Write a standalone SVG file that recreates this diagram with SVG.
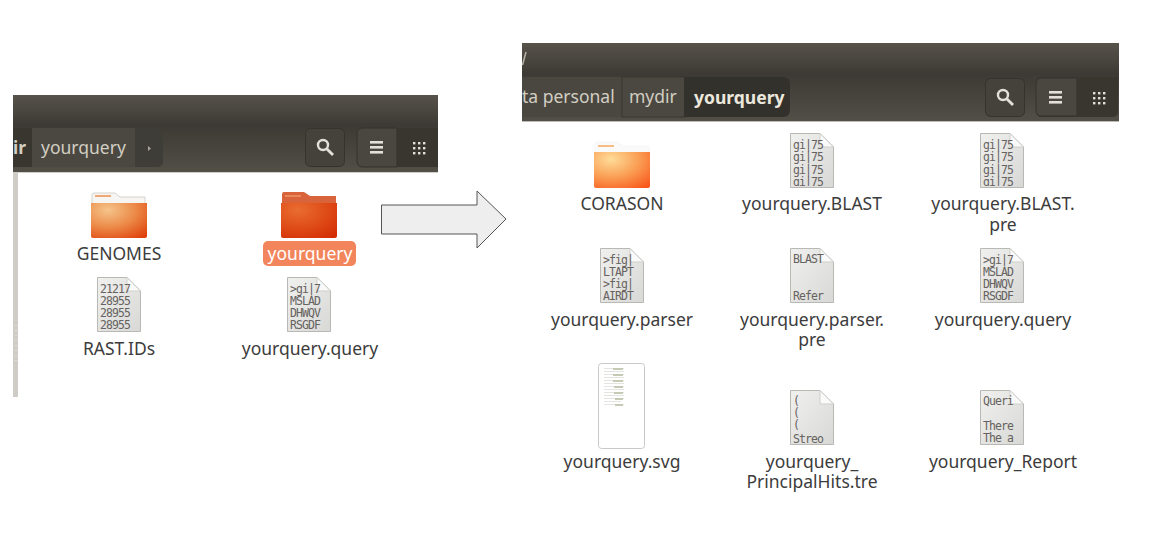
<svg xmlns="http://www.w3.org/2000/svg" width="1150" height="551" viewBox="0 0 1150 551">
<style>
.lbl{font-family:"Noto Sans","Open Sans","Liberation Sans",sans-serif;font-size:17.5px;fill:#3c3c3c;text-anchor:middle}
.crumb{font-family:"Noto Sans","Open Sans","Liberation Sans",sans-serif;font-size:17.5px;fill:#d2cec2}
.mono{font-family:"DejaVu Sans Mono","Liberation Mono",monospace;font-size:11.5px;letter-spacing:-.93px;fill:#66625f}
.btn{fill:#45423c;stroke:#35332e;stroke-width:1}
.ic{fill:#e4e0d8}
</style>
<defs>
<linearGradient id="title" x1="0" y1="0" x2="0" y2="1"><stop offset="0" stop-color="#57534b"/><stop offset="1" stop-color="#3d3a35"/></linearGradient>
<linearGradient id="tool" x1="0" y1="0" x2="0" y2="1"><stop offset="0" stop-color="#3d3a35"/><stop offset="1" stop-color="#524f47"/></linearGradient>
<linearGradient id="page" x1="0" y1="0" x2="1" y2="1"><stop offset="0" stop-color="#f0f0ee"/><stop offset="1" stop-color="#d8d8d6"/></linearGradient>
<radialGradient id="fo1" cx=".3" cy=".2" r="1"><stop offset="0" stop-color="#f5c48a"/><stop offset=".5" stop-color="#ec8a48"/><stop offset="1" stop-color="#df3f0a"/></radialGradient>
<radialGradient id="fo2" cx=".3" cy=".2" r="1"><stop offset="0" stop-color="#e96c30"/><stop offset=".5" stop-color="#df4d18"/><stop offset="1" stop-color="#d42c04"/></radialGradient>
<radialGradient id="fo3" cx=".3" cy=".2" r="1"><stop offset="0" stop-color="#fedc98"/><stop offset=".5" stop-color="#fa9f55"/><stop offset="1" stop-color="#f9561a"/></radialGradient>
<clipPath id="iconClip"><rect x="1" y="1" width="42" height="52"/></clipPath>
<g id="page-icon">
<path d="M.5 .5H30L43.500 14V54.500H.5Z" fill="url(#page)" stroke="#b8b8b4"/>
<path d="M30 .5V14H43.500Z" fill="#fafafa" stroke="#cfcfcb"/>
</g>
<g id="search-icon" fill="none" stroke="#e4e0d8">
<circle cx="-2" cy="-2" r="5" stroke-width="2.400"/><path d="M2 2L8 8" stroke-width="2.800"/>
</g>
<g id="list-icon" class="ic"><rect x="-7" y="-6" width="13" height="2.600"/><rect x="-7" y="-1" width="13" height="2.600"/><rect x="-7" y="4" width="13" height="2.600"/></g>
<g id="grid-icon" class="ic"><rect x="-6" y="-6" width="2.400" height="2.400"/><rect x="-1" y="-6" width="2.400" height="2.400"/><rect x="4" y="-6" width="2.400" height="2.400"/><rect x="-6" y="-1" width="2.400" height="2.400"/><rect x="-1" y="-1" width="2.400" height="2.400"/><rect x="4" y="-1" width="2.400" height="2.400"/><rect x="-6" y="4" width="2.400" height="2.400"/><rect x="-1" y="4" width="2.400" height="2.400"/><rect x="4" y="4" width="2.400" height="2.400"/></g>
</defs>
<rect width="1150" height="551" fill="#fff"/>

<g id="window-left">
<rect x="13" y="95" width="425" height="30" fill="url(#title)"/>
<rect x="13" y="125" width="425" height="47" fill="url(#tool)"/>
<rect x="13" y="172" width="425" height="1" fill="#cfcdc8"/>
<rect x="13" y="173" width="5" height="224" fill="#cfcbc6"/>
<path d="M16 325V364" stroke="#f2f0ec" stroke-width="1" stroke-dasharray="1 4"/>
<rect x="13" y="128" width="19" height="39" fill="#38362f"/>
<rect x="32" y="128" width="103" height="39" fill="#4b4841"/>
<path d="M135 128H157Q163 128 163 134V161Q163 167 157 167H135Z" fill="#3f3d37"/>
<path d="M148 146l3 2.500-3 2.500Z" fill="#aaa69c"/>
<text class="crumb" x="13" y="154" font-weight="700">ir</text>
<text class="crumb" x="41" y="154">yourquery</text>
<rect class="btn" x="305.500" y="128.500" width="39" height="38" rx="5"/>
<use href="#search-icon" x="325" y="147"/>
<path d="M438 128H363Q357 128 357 134V161Q357 167 363 167H438Z" fill="#38362f"/>
<path d="M397 128H363Q357 128 357 134V161Q357 167 363 167H397Z" fill="#4a4741" stroke="#35332e"/>
<use href="#list-icon" x="377" y="147"/>
<use href="#grid-icon" x="419" y="148"/>
</g>

<g id="window-right">
<rect x="522" y="43" width="597" height="31" fill="url(#title)"/>
<rect x="522" y="74" width="597" height="47" fill="url(#tool)"/>
<rect x="522" y="121" width="597" height="1" fill="#bdbbb6"/>
<path d="M526 52L522.500 65" fill="none" stroke="#b5b1a6" stroke-width="1.500"/>
<rect x="522" y="77" width="100" height="40" fill="#4a4741"/>
<rect x="622" y="77" width="63" height="40" fill="#4b4841" stroke="#38362f"/>
<path d="M684 77H783Q790 77 790 84V110Q790 117 783 117H684Z" fill="#33312c"/>
<text class="crumb" x="522" y="103">ta personal</text>
<text class="crumb" x="629" y="103">mydir</text>
<text class="crumb" x="694" y="104" font-weight="700" style="fill:#ece8dd">yourquery</text>
<rect class="btn" x="985.500" y="78.500" width="39" height="38" rx="5"/>
<use href="#search-icon" x="1005" y="97"/>
<path d="M1118 77H1042Q1036 77 1036 83V111Q1036 117 1042 117H1112Q1118 117 1118 111Z" fill="#38362f"/>
<path d="M1077 78H1042Q1036 78 1036 84V110Q1036 116 1042 116H1077Z" fill="#4a4741" stroke="#35332e"/>
<use href="#list-icon" x="1056" y="97"/>
<use href="#grid-icon" x="1099" y="98"/>
</g>

<g id="folder-genomes">
<path d="M92 195Q92 193 94 193H115L120 197H145V204H92Z" fill="#f7f5f1" stroke="#d5d3cd"/>
<rect x="95" y="195" width="16" height="2" fill="#f0a878"/>
<path d="M91 203H147V236Q147 238 145 238H93Q91 238 91 236Z" fill="url(#fo1)"/>
<text class="lbl" x="119" y="260">GENOMES</text>
</g>
<g id="folder-yourquery-selected">
<path d="M282 195Q282 192 284 192H304L310 196H336V204H282Z" fill="#d9633a"/>
<rect x="285" y="195" width="16" height="2" fill="#ea8a5c"/>
<path d="M281 203H337V236Q337 238 335 238H283Q281 238 281 236Z" fill="url(#fo2)"/>
<rect x="263" y="241" width="93" height="25" rx="5" fill="#f2855c"/>
<text class="lbl" x="310" y="260" style="fill:#fff">yourquery</text>
</g>
<g id="file-rast-ids" transform="translate(97 277)">
<use href="#page-icon"/>
<g clip-path="url(#iconClip)"><text class="mono" x="3" y="16">21217</text><text class="mono" x="3" y="28">28955</text><text class="mono" x="3" y="40">28955</text><text class="mono" x="3" y="52">28955</text></g>
<text class="lbl" x="22" y="77.500">RAST.IDs</text>
</g>
<g id="file-query-left" transform="translate(287 277)">
<use href="#page-icon"/>
<g clip-path="url(#iconClip)"><text class="mono" x="3" y="16">&gt;gi|7</text><text class="mono" x="3" y="28">MSLAD</text><text class="mono" x="3" y="40">DHWQV</text><text class="mono" x="3" y="52">RSGDF</text></g>
<text class="lbl" x="23" y="77.500">yourquery.query</text>
</g>

<g id="connectors">
<path d="M381.500 205H477V191L506 219 477 248V234H381.500Z" fill="#eeeeee" stroke="#555" stroke-width="1"/>
</g>

<g id="folder-corason">
<path d="M595 145Q595 142 597 142H617L623 146H649V153H595Z" fill="#fbfafa" stroke="#f0efec" stroke-width=".5"/>
<rect x="598" y="145" width="16" height="2" fill="#f8bd84"/>
<path d="M594 152H650V186Q650 188 648 188H596Q594 188 594 186Z" fill="url(#fo3)"/>
<text class="lbl" x="622" y="210">CORASON</text>
</g>
<g id="file-blast" transform="translate(790 133)">
<use href="#page-icon"/>
<g clip-path="url(#iconClip)"><text class="mono" x="3" y="15.500">gi|75</text><text class="mono" x="3" y="28">gi|75</text><text class="mono" x="3" y="40.500">gi|75</text><text class="mono" x="3" y="53">gi|75</text></g>
<text class="lbl" x="22" y="77">yourquery.BLAST</text>
</g>
<g id="file-blast-pre" transform="translate(980 133)">
<use href="#page-icon"/>
<g clip-path="url(#iconClip)"><text class="mono" x="3" y="15.500">gi|75</text><text class="mono" x="3" y="28">gi|75</text><text class="mono" x="3" y="40.500">gi|75</text><text class="mono" x="3" y="53">gi|75</text></g>
<text class="lbl" x="23" y="77">yourquery.BLAST.</text>
<text class="lbl" x="23" y="98">pre</text>
</g>
<g id="file-parser" transform="translate(600 248)">
<use href="#page-icon"/>
<g clip-path="url(#iconClip)"><text class="mono" x="3" y="16">&gt;fig|</text><text class="mono" x="3" y="28">LTAPT</text><text class="mono" x="3" y="40">&gt;fig|</text><text class="mono" x="3" y="52">AIRDT</text></g>
<text class="lbl" x="22" y="77.500">yourquery.parser</text>
</g>
<g id="file-parser-pre" transform="translate(790 248)">
<use href="#page-icon"/>
<g clip-path="url(#iconClip)"><text class="mono" x="3" y="15">BLAST</text><text class="mono" x="3" y="52">Refer</text></g>
<text class="lbl" x="22" y="77.500">yourquery.parser.</text>
<text class="lbl" x="22" y="98">pre</text>
</g>
<g id="file-query-right" transform="translate(980 248)">
<use href="#page-icon"/>
<g clip-path="url(#iconClip)"><text class="mono" x="3" y="16">&gt;gi|7</text><text class="mono" x="3" y="28">MSLAD</text><text class="mono" x="3" y="40">DHWQV</text><text class="mono" x="3" y="52">RSGDF</text></g>
<text class="lbl" x="23" y="77.500">yourquery.query</text>
</g>
<g id="file-svg">
<rect x="598.500" y="363.500" width="46" height="85" rx="3" fill="#fff" stroke="#c9c9c5"/>
<g fill="#e4e4e0"><rect x="604" y="368" width="20" height="1"/><rect x="604" y="371" width="20" height="1"/><rect x="604" y="374" width="20" height="1"/><rect x="604" y="377" width="20" height="1"/><rect x="604" y="380" width="20" height="1"/><rect x="604" y="383" width="20" height="1"/><rect x="604" y="386" width="20" height="1"/><rect x="604" y="389" width="20" height="1"/><rect x="604" y="392" width="20" height="1"/><rect x="604" y="395" width="20" height="1"/><rect x="604" y="398" width="20" height="1"/><rect x="604" y="401" width="17" height="1"/><rect x="604" y="404" width="20" height="1"/></g>
<g fill="#c4cab4"><rect x="613" y="368" width="10" height="2"/><rect x="613" y="374" width="10" height="2"/><rect x="613" y="380" width="10" height="2"/><rect x="614" y="386" width="9" height="2"/><rect x="614" y="392" width="9" height="2"/><rect x="615" y="398" width="8" height="2"/><rect x="615" y="404" width="8" height="2"/></g>
<text class="lbl" x="622" y="468">yourquery.svg</text>
</g>
<g id="file-principalhits" transform="translate(790 390)">
<use href="#page-icon"/>
<g clip-path="url(#iconClip)"><text class="mono" x="3" y="15">(</text><text class="mono" x="3" y="27">(</text><text class="mono" x="3" y="39">(</text><text class="mono" x="3" y="53">Streo</text></g>
<text class="lbl" x="22" y="78">yourquery_</text>
<text class="lbl" x="22" y="98">PrincipalHits.tre</text>
</g>
<g id="file-report" transform="translate(980 390)">
<use href="#page-icon"/>
<g clip-path="url(#iconClip)"><text class="mono" x="3" y="15">Queri</text><text class="mono" x="3" y="40">There</text><text class="mono" x="3" y="52">The a</text></g>
<text class="lbl" x="23" y="78">yourquery_Report</text>
</g>
</svg>
